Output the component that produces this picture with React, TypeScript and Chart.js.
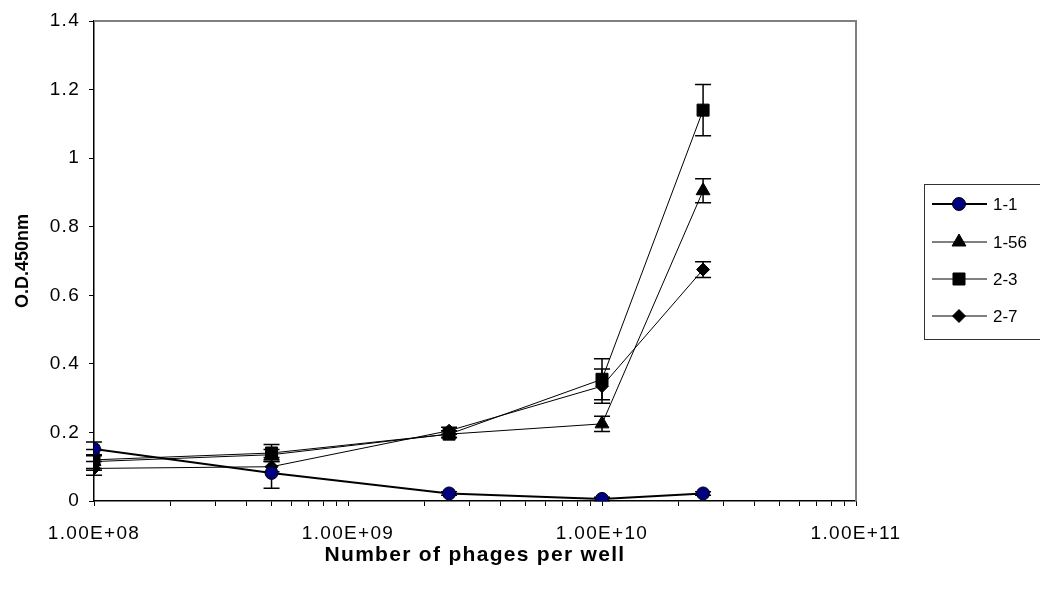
import React, { useEffect, useRef } from "react";
import { Chart, registerables } from "chart.js";

Chart.register(...registerables);

const xValues = [1e8, 5e8, 2.5e9, 1e10, 2.5e10];
const seriesNames = ["1-1", "1-56", "2-3", "2-7"];
const s11 = [0.152, 0.082, 0.022, 0.006, 0.022];
const s156 = [0.115, 0.135, 0.195, 0.225, 0.905];
const s23 = [0.12, 0.14, 0.195, 0.355, 1.14];
const s27 = [0.095, 0.1, 0.205, 0.335, 0.675];
const e11 = [0.02, 0.045, 0.005, 0.005, 0.005];
const e156 = [0.02, 0.015, 0.01, 0.022, 0.035];
const e23 = [0.03, 0.025, 0.01, 0.06, 0.075];
const e27 = [0.02, 0.015, 0.01, 0.05, 0.023];
const xMajorTicks = [1e8, 1e9, 1e10, 1e11];
const xMinorMultipliers = [2, 3, 4, 5, 6, 7, 8, 9];
const yTicks = [0, 0.2, 0.4, 0.6, 0.8, 1, 1.2, 1.4];

const FONT = "'Liberation Sans', Arial, sans-serif";

function fmtSci(v: number): string {
  const exp = Math.round(Math.log10(v));
  const mant = v / Math.pow(10, exp);
  const sign = exp >= 0 ? "+" : "-";
  return mant.toFixed(2) + "E" + sign + String(Math.abs(exp)).padStart(2, "0");
}

const spacingPlugin = {
  id: "spacing",
  beforeDraw(chart: any) {
    (chart.ctx as any).letterSpacing = "1.3px";
  },
};

const errorBarPlugin = {
  id: "errorBars",
  beforeDatasetsDraw(chart: any) {
    const ctx = chart.ctx;
    const xs = chart.scales.x;
    const ys = chart.scales.y;
    ctx.save();
    ctx.strokeStyle = "#000";
    ctx.lineWidth = 1.5;
    chart.data.datasets.forEach((ds: any) => {
      const errs: number[] = ds.errors || [];
      ds.data.forEach((p: any, i: number) => {
        const e = errs[i];
        if (!e) return;
        const px = xs.getPixelForValue(p.x);
        const yt = ys.getPixelForValue(p.y + e);
        const yb = ys.getPixelForValue(p.y - e);
        ctx.beginPath();
        ctx.moveTo(px, yt);
        ctx.lineTo(px, yb);
        ctx.moveTo(px - 8, yt);
        ctx.lineTo(px + 8, yt);
        ctx.moveTo(px - 8, yb);
        ctx.lineTo(px + 8, yb);
        ctx.stroke();
      });
    });
    ctx.restore();
  },
};

const frameAndLegendPlugin = {
  id: "frameLegend",
  afterDraw(chart: any) {
    const ctx = chart.ctx;
    const a = chart.chartArea;
    ctx.save();
    (ctx as any).letterSpacing = "0px";
    ctx.strokeStyle = "#808080";
    ctx.lineWidth = 2;
    ctx.beginPath();
    ctx.moveTo(a.left, a.top);
    ctx.lineTo(a.right, a.top);
    ctx.lineTo(a.right, a.bottom);
    ctx.stroke();

    const bx = chart.width - 116;
    const by = 184;
    ctx.strokeStyle = "#333";
    ctx.lineWidth = 1;
    ctx.strokeRect(bx + 0.5, by + 0.5, 200, 155);
    const rowYs = [204, 242, 279, 316];
    chart.data.datasets.forEach((ds: any, i: number) => {
      const y = rowYs[i];
      const x0 = bx + 8;
      const x1 = bx + 63;
      const mx = bx + 35;
      ctx.strokeStyle = "#000";
      ctx.lineWidth = ds.borderWidth;
      ctx.beginPath();
      ctx.moveTo(x0, y);
      ctx.lineTo(x1, y);
      ctx.stroke();
      ctx.fillStyle = ds.pointBackgroundColor;
      ctx.strokeStyle = ds.pointBorderColor;
      ctx.lineWidth = ds.pointBorderWidth;
      ctx.beginPath();
      const r = ds.pointRadius;
      if (ds.pointStyle === "circle") {
        ctx.arc(mx, y, r, 0, Math.PI * 2);
      } else if (ds.pointStyle === "triangle") {
        ctx.moveTo(mx, y - r);
        ctx.lineTo(mx + r * Math.sin((2 * Math.PI) / 3), y + r * 0.5);
        ctx.lineTo(mx - r * Math.sin((2 * Math.PI) / 3), y + r * 0.5);
        ctx.closePath();
      } else if (ds.pointStyle === "rect") {
        const s = r * Math.SQRT1_2;
        ctx.rect(mx - s, y - s, 2 * s, 2 * s);
      } else {
        ctx.moveTo(mx, y - r);
        ctx.lineTo(mx + r, y);
        ctx.lineTo(mx, y + r);
        ctx.lineTo(mx - r, y);
        ctx.closePath();
      }
      ctx.fill();
      ctx.stroke();
      ctx.fillStyle = "#000";
      ctx.font = "17px " + FONT;
      ctx.textBaseline = "middle";
      ctx.textAlign = "left";
      ctx.fillText(ds.label, bx + 69, y + 1);
    });
    ctx.restore();
  },
};

function mk(label: string, ys: number[], errs: number[], style: string, radius: number, fill: string, lw: number) {
  return {
    label,
    data: xValues.map((x, i) => ({ x, y: ys[i] })),
    errors: errs,
    borderColor: "#000",
    borderWidth: lw,
    pointStyle: style,
    pointRadius: radius,
    pointHoverRadius: radius,
    pointBackgroundColor: fill,
    pointBorderColor: "#000",
    pointBorderWidth: 1,
    fill: false,
    tension: 0,
  };
}

export default function App() {
  const ref = useRef<HTMLCanvasElement | null>(null);
  useEffect(() => {
    if (!ref.current) return;
    const chart = new Chart(ref.current, {
      type: "line",
      data: {
        datasets: [
          mk(seriesNames[0], s11, e11, "circle", 6.5, "#000080", 2),
          mk(seriesNames[1], s156, e156, "triangle", 8, "#000", 1),
          mk(seriesNames[2], s23, e23, "rect", 8.5, "#000", 1),
          mk(seriesNames[3], s27, e27, "rectRot", 6.5, "#000", 1),
        ] as any,
      },
      options: {
        responsive: false,
        animation: false,
        layout: { padding: { top: 21, right: 184, left: 0, bottom: 0 } },
        plugins: {
          legend: { display: false },
          tooltip: { enabled: false },
        },
        scales: {
          x: {
            type: "logarithmic",
            min: 1e8,
            max: 1e11,
            afterBuildTicks: (scale: any) => {
              const t: any[] = [];
              for (let k = 0; k < xMajorTicks.length; k++) {
                t.push({ value: xMajorTicks[k], major: true });
                if (k < xMajorTicks.length - 1) {
                  xMinorMultipliers.forEach((m) => t.push({ value: xMajorTicks[k] * m }));
                }
              }
              scale.ticks = t;
            },
            afterFit: (scale: any) => {
              scale.height = 94;
            },
            ticks: {
              autoSkip: false,
              maxRotation: 0,
              minRotation: 0,
              padding: 16,
              color: "#000",
              font: { family: FONT, size: 19 },
              callback: (v: any) => {
                const val = Number(v);
                return xMajorTicks.some((m) => Math.abs(m - val) / m < 1e-6) ? fmtSci(val) : "";
              },
            },
            grid: {
              drawOnChartArea: false,
              drawTicks: true,
              tickLength: 5,
              color: "#000",
              lineWidth: 1,
            },
            border: { color: "#000", width: 1.5 },
            title: {
              display: true,
              text: "Number of phages per well",
              color: "#000",
              font: { family: FONT, size: 21, weight: "bold" },
              padding: { top: 0, bottom: 27 },
            },
          },
          y: {
            min: 0,
            max: 1.4,
            afterBuildTicks: (scale: any) => {
              scale.ticks = yTicks.map((v) => ({ value: v }));
            },
            afterFit: (scale: any) => {
              scale.width = 94;
            },
            afterUpdate: (scale: any) => {
              if (scale.__wrapped) return;
              scale.__wrapped = true;
              const orig = scale.drawTitle.bind(scale);
              scale.drawTitle = function () {
                const c = scale.ctx;
                c.save();
                c.letterSpacing = "0px";
                orig();
                c.restore();
              };
            },
            ticks: {
              padding: 9,
              color: "#000",
              font: { family: FONT, size: 19 },
              callback: (v: any) => String(Number(Number(v).toFixed(1))),
            },
            grid: {
              drawOnChartArea: false,
              drawTicks: true,
              tickLength: 5,
              color: "#000",
              lineWidth: 1,
            },
            border: { color: "#000", width: 1.5 },
            title: {
              display: true,
              text: "O.D.450nm",
              color: "#000",
              font: { family: FONT, size: 18, weight: "bold" },
              padding: { top: 12, bottom: 0 },
            },
          },
        },
      } as any,
      plugins: [spacingPlugin, errorBarPlugin, frameAndLegendPlugin],
    });
    return () => chart.destroy();
  }, []);
  return (
    <div style={{ position: "absolute", left: 0, top: 0, width: 1040, height: 595, background: "#fff" }}>
      <canvas ref={ref} width={1040} height={595} style={{ width: 1040, height: 595, display: "block" }} />
    </div>
  );
}
